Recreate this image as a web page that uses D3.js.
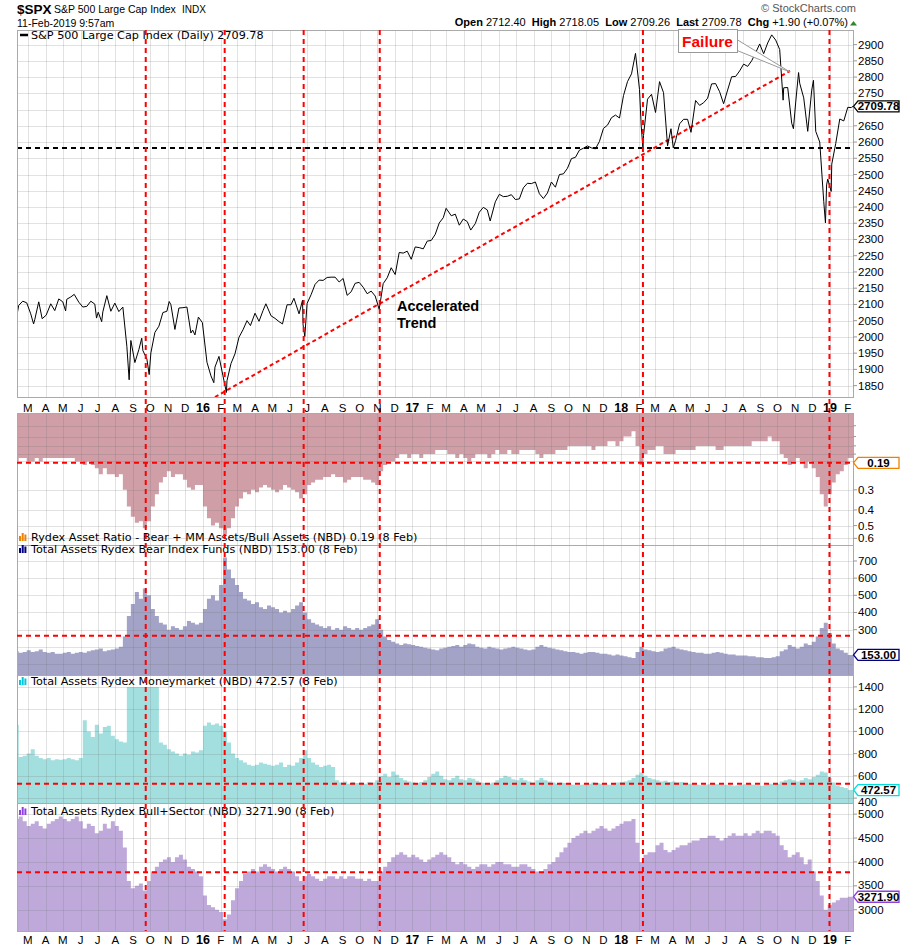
<!DOCTYPE html>
<html><head><meta charset="utf-8">
<script src="https://cdn.jsdelivr.net/npm/d3@7"></script>
<style>body{margin:0;background:#fff}</style>
</head><body>
<svg id="c" width="900" height="950"></svg>
<script>
// ---------------- DATA ----------------
const spxDates = ["2015-02-10","2015-02-13","2015-02-20","2015-02-27","2015-03-06","2015-03-11","2015-03-13","2015-03-20","2015-03-26","2015-04-02","2015-04-10","2015-04-17","2015-04-24","2015-05-01","2015-05-06","2015-05-08","2015-05-15","2015-05-21","2015-05-29","2015-06-05","2015-06-12","2015-06-19","2015-06-26","2015-06-29","2015-07-02","2015-07-08","2015-07-10","2015-07-17","2015-07-24","2015-07-31","2015-08-07","2015-08-14","2015-08-21","2015-08-25","2015-08-28","2015-09-04","2015-09-11","2015-09-16","2015-09-18","2015-09-25","2015-09-29","2015-10-02","2015-10-09","2015-10-16","2015-10-23","2015-10-30","2015-11-03","2015-11-06","2015-11-13","2015-11-20","2015-11-27","2015-12-04","2015-12-11","2015-12-14","2015-12-18","2015-12-24","2015-12-31","2016-01-08","2016-01-15","2016-01-20","2016-01-22","2016-01-29","2016-02-05","2016-02-11","2016-02-12","2016-02-19","2016-02-26","2016-03-04","2016-03-11","2016-03-18","2016-03-24","2016-04-01","2016-04-08","2016-04-15","2016-04-20","2016-04-29","2016-05-06","2016-05-13","2016-05-19","2016-05-27","2016-06-03","2016-06-08","2016-06-17","2016-06-23","2016-06-24","2016-06-27","2016-07-01","2016-07-08","2016-07-15","2016-07-22","2016-07-29","2016-08-05","2016-08-12","2016-08-19","2016-08-26","2016-09-02","2016-09-09","2016-09-16","2016-09-23","2016-09-30","2016-10-07","2016-10-14","2016-10-21","2016-10-28","2016-11-04","2016-11-11","2016-11-18","2016-11-25","2016-12-02","2016-12-09","2016-12-16","2016-12-23","2016-12-30","2017-01-06","2017-01-13","2017-01-20","2017-01-27","2017-02-03","2017-02-10","2017-02-17","2017-02-24","2017-03-01","2017-03-10","2017-03-17","2017-03-24","2017-03-31","2017-04-07","2017-04-13","2017-04-21","2017-04-28","2017-05-05","2017-05-12","2017-05-17","2017-05-26","2017-06-02","2017-06-09","2017-06-16","2017-06-23","2017-06-30","2017-07-07","2017-07-14","2017-07-21","2017-07-28","2017-08-04","2017-08-11","2017-08-18","2017-08-25","2017-09-01","2017-09-08","2017-09-15","2017-09-22","2017-09-29","2017-10-06","2017-10-13","2017-10-20","2017-10-27","2017-11-03","2017-11-10","2017-11-17","2017-11-24","2017-12-01","2017-12-08","2017-12-15","2017-12-22","2017-12-29","2018-01-05","2018-01-12","2018-01-19","2018-01-26","2018-02-02","2018-02-05","2018-02-08","2018-02-09","2018-02-16","2018-02-23","2018-03-02","2018-03-09","2018-03-16","2018-03-23","2018-03-29","2018-04-02","2018-04-06","2018-04-13","2018-04-20","2018-04-27","2018-05-03","2018-05-11","2018-05-18","2018-05-25","2018-06-01","2018-06-08","2018-06-15","2018-06-22","2018-06-29","2018-07-06","2018-07-13","2018-07-20","2018-07-27","2018-08-03","2018-08-10","2018-08-17","2018-08-24","2018-08-31","2018-09-07","2018-09-14","2018-09-21","2018-09-28","2018-10-05","2018-10-11","2018-10-12","2018-10-19","2018-10-26","2018-10-29","2018-11-02","2018-11-07","2018-11-09","2018-11-16","2018-11-23","2018-11-30","2018-12-03","2018-12-07","2018-12-14","2018-12-21","2018-12-24","2018-12-26","2018-12-28","2019-01-03","2019-01-04","2019-01-11","2019-01-18","2019-01-25","2019-02-01","2019-02-07","2019-02-08","2019-02-11"];
const spxValues = [2068,2097,2110,2105,2071,2040,2053,2108,2056,2067,2102,2081,2117,2108,2080,2116,2123,2131,2107,2092,2094,2110,2101,2058,2076,2047,2077,2127,2079,2104,2078,2092,1971,1868,1989,1921,1961,1996,1958,1932,1884,1951,2014,2033,2075,2079,2109,2099,2023,2089,2090,2092,2012,2021,2006,2061,2044,1922,1880,1859,1907,1940,1880,1829,1865,1918,1948,1999,2022,2050,2035,2073,2048,2081,2102,2065,2057,2047,2040,2099,2099,2119,2071,2113,2037,2001,2103,2130,2162,2175,2174,2183,2184,2184,2169,2180,2128,2139,2165,2168,2153,2133,2141,2126,2085,2164,2182,2213,2192,2260,2258,2264,2239,2277,2275,2271,2295,2297,2316,2351,2367,2396,2373,2378,2344,2363,2355,2329,2349,2384,2399,2391,2357,2416,2439,2432,2433,2438,2423,2425,2459,2473,2472,2477,2441,2426,2443,2477,2461,2500,2502,2519,2549,2553,2575,2581,2588,2582,2579,2602,2642,2652,2675,2683,2674,2743,2786,2810,2873,2762,2649,2581,2620,2732,2747,2691,2786,2752,2588,2641,2582,2604,2656,2670,2670,2630,2728,2713,2721,2735,2779,2780,2755,2718,2760,2801,2802,2819,2840,2833,2850,2875,2902,2872,2905,2930,2914,2885,2729,2767,2768,2658,2641,2723,2814,2781,2736,2633,2760,2790,2633,2600,2417,2351,2468,2486,2448,2532,2596,2671,2665,2707,2706,2708,2710];

// weekly (Friday) readings, 13 Feb 2015 .. 8 Feb 2019, grouped by month
const ratioValues = [
 0.20,0.19,0.19, 0.20,0.20,0.19,0.20, 0.19,0.19,0.19,0.19, 0.19,0.19,0.19,0.19,0.20, 0.20,0.21,0.20,0.21,
 0.22,0.24,0.22,0.24,0.24, 0.25,0.24,0.30,0.38, 0.44,0.48,0.47,0.52, 0.47,0.38,0.32,0.27,0.25, 0.23,0.25,0.24,0.24, 0.26,0.29,0.30,0.28,
 0.28,0.38,0.45,0.50,0.48, 0.52,0.57,0.52,0.45, 0.38,0.34,0.31,0.32, 0.30,0.31,0.29,0.28,0.29, 0.30,0.31,0.30,0.28, 0.29,0.30,0.31,0.34,
 0.32,0.28,0.27,0.26,0.26, 0.25,0.25,0.24,0.25, 0.25,0.27,0.26,0.25,0.25, 0.25,0.26,0.26,0.27, 0.28,0.23,0.21,0.20, 0.20,0.19,0.18,0.18,0.19,
 0.18,0.18,0.19,0.18, 0.18,0.18,0.17,0.17, 0.17,0.18,0.18,0.19,0.18, 0.19,0.20,0.19,0.18, 0.18,0.18,0.19,0.18, 0.17,0.18,0.18,0.17,0.18,
 0.18,0.17,0.17,0.17, 0.17,0.18,0.19,0.18, 0.18,0.18,0.17,0.17,0.17, 0.16,0.16,0.16,0.16, 0.16,0.16,0.17,0.16, 0.16,0.16,0.15,0.15,0.16,
 0.15,0.14,0.14,0.13, 0.16,0.21,0.18,0.17, 0.17,0.16,0.16,0.18,0.18, 0.18,0.17,0.17,0.17, 0.17,0.17,0.16,0.16, 0.16,0.16,0.16,0.17,0.17,
 0.16,0.16,0.16,0.16, 0.16,0.16,0.16,0.15,0.15, 0.15,0.15,0.14,0.15, 0.15,0.18,0.19,0.21, 0.20,0.19,0.20,0.22,0.20, 0.22,0.25,0.32,0.38,
 0.32,0.27,0.24,0.23, 0.21,0.19];
const bearValues = [
 175,165,170, 180,170,175,185, 170,165,170,160, 160,165,170,160,165, 170,165,175,180,
 185,190,175,180,185, 190,200,260,380, 450,520,480,540, 500,420,380,340,330, 300,320,310,300, 320,350,340,330,
 340,420,480,500,470, 560,720,650,600, 560,520,480,470, 450,460,430,420,440, 430,420,400,410, 400,420,440,460,
 400,360,340,330,320, 310,320,300,310, 300,320,310,300,310, 300,310,320,330, 360,300,260,240, 230,220,210,220,215,
 210,205,200,195, 190,185,180,190, 195,200,205,210,200, 210,220,215,200, 195,190,200,195, 190,185,190,195,200,
 195,190,185,180, 185,200,210,200, 195,190,185,180,175, 170,170,165,160, 165,170,170,165, 160,160,155,150,155,
 150,145,140,135, 170,200,185,180, 175,170,175,190,195, 200,190,185,180, 175,170,165,165, 160,160,165,170,165,
 160,155,155,150, 150,150,145,145,140, 140,135,135,140, 145,175,185,210, 200,190,200,220,210, 230,260,310,340,
 280,220,190,180, 165,153];
const mmValues = [
 1060,770,780, 800,840,780,760, 750,760,740,750, 745,750,760,750,740, 760,1100,1000,950,
 1060,980,1040,1050,960, 930,910,900,1400, 1400,1400,1400,1400, 1400,1400,1400,900,880, 840,820,800,780, 800,790,820,810,
 830,1050,1080,1060,1070, 1050,1000,900,800, 760,740,720,700, 690,700,720,710,700, 690,700,720,680, 700,690,720,760,
 830,760,720,700,680, 690,700,680,560, 540,550,530,545,535, 540,530,545,540, 560,600,620,590, 640,610,580,560,550,
 540,535,545,560, 590,620,640,600, 570,560,580,600,570, 560,580,575,555, 540,535,530,540, 560,580,600,590,570,
 560,580,560,550, 540,560,580,560, 550,540,530,540,535, 530,520,515,520, 525,530,540,535, 530,525,520,530,540,
 545,550,560,580, 610,630,600,580, 570,560,550,555,545, 550,540,545,535, 530,525,520,515, 520,525,530,525,520,
 520,515,510,515, 520,525,530,520,515, 510,520,530,525, 530,550,560,570, 560,550,560,580,570, 590,610,640,630,
 580,540,510,500, 490,473];
const bullValues = [
 4900,4950,4850, 4750,4800,4850,4750, 4700,4800,4850,4900, 4950,4900,4850,4900,4950, 4850,4700,4800,4750,
 4600,4650,4800,4700,4850, 4750,4650,4300,3600, 3450,3500,3550,3400, 3600,3800,3900,4000,4050, 4100,4000,4100,4150, 4050,3900,3850,3800,
 3700,3300,3100,3050,3000, 2950,2800,2900,3200, 3450,3600,3750,3800, 3850,3800,3900,3950,3900, 3850,3800,3850,3900, 3850,3800,3700,3600,
 3700,3750,3700,3650,3600, 3650,3700,3700,3650, 3700,3650,3700,3700,3650, 3650,3600,3650,3600, 3600,3800,3900,4000, 4100,4150,4200,4150,4100,
 4150,4100,4050,4000, 4050,4100,4150,4200, 4150,4100,4000,3950,4000, 3950,3900,3850,3900, 3950,3950,3900,3950, 4000,4000,3950,3950,3900,
 3900,3950,3950,3900, 3850,3800,3800,3850, 3950,4000,4100,4200,4300, 4400,4500,4550,4600, 4650,4600,4650,4700, 4750,4700,4650,4700,4750,
 4800,4850,4850,4900, 4400,4000,4150,4200, 4200,4350,4400,4250,4200, 4250,4300,4350,4350, 4400,4450,4450,4500, 4500,4550,4550,4500,4450,
 4500,4550,4600,4550, 4550,4600,4550,4600,4650, 4600,4650,4650,4600, 4550,4350,4250,4100, 4150,4200,4100,3950,4050, 3800,3600,3300,3000,
 3100,3150,3200,3250, 3250,3272];

const monthLetters = ["J","F","M","A","M","J","J","A","S","O","N","D"];
const mainTicks = [1850,1900,1950,2000,2050,2100,2150,2200,2250,2300,2350,2400,2450,2500,2550,2600,2650,2700,2750,2800,2850,2900];
const ratioTicks = [0.3,0.4,0.5,0.6];
const ratioMinor = [0.12,0.14,0.16,0.18,0.2];
const bearTicks = [100,200,300,400,500,600,700];
const mmTicks = [400,600,800,1000,1200,1400];
const bullTicks = [3000,3500,4000,4500,5000];
const eventDates = ["2015-09-23","2016-02-08","2016-06-25","2016-11-05","2018-02-08","2018-12-31"];
const trendStart = ["2016-01-22",1815], trendEnd = ["2018-10-23",2819];
const supportLevel = 2582;
const ratioRef = 0.204, bearRef = 265, mmRef = 530, bullRef = 3784;

// ---------------- DRAW ----------------
const svg = d3.select("#c");
const pd = d3.timeParse("%Y-%m-%d");
const L = 17, R = 853;
const P = {main:[30,397], ratio:[413,545], bear:[545,675], mm:[675,803], bull:[803,931]};
const x = d3.scaleTime().domain([new Date(2015,1,10), new Date(2019,1,11)]).range([17,853.5]);
const yMain = d3.scaleLinear().domain([1815,2945]).range([397,30]);
const yRatio = d3.scaleLog().domain([0.1,0.66]).range([413,545]);
const yBear = d3.scaleLinear().domain([36,793]).range([675,545]);
const yMM = d3.scaleLinear().domain([356,1507]).range([803,675]);
const yBull = d3.scaleLinear().domain([2555,5233]).range([931,803]);
const AX = "Liberation Sans, Arial, sans-serif";
const LG = "DejaVu Sans, Verdana, sans-serif";
const LGS = 11.2;

svg.append("rect").attr("width",900).attr("height",950).attr("fill","#fff");

const months = d3.timeMonth.range(new Date(2015,2,1), new Date(2019,2,1));
const weekDates = d3.timeFriday.range(new Date(2015,1,13), new Date(2019,1,9));

const defs = svg.append("defs");
Object.entries(P).forEach(([k,[t,b]])=>{
  defs.append("clipPath").attr("id","clip-"+k).append("rect").attr("x",L).attr("y",t).attr("width",R-L).attr("height",b-t);
});

function grid(key, ticks, y, layer){
  const [t,b] = P[key];
  const g = layer.append("g").attr("stroke","rgba(110,110,110,0.2)").attr("stroke-width",1);
  months.forEach(m=>{ const xx=Math.round(x(m))+0.5; g.append("line").attr("x1",xx).attr("x2",xx).attr("y1",t).attr("y2",b); });
  ticks.forEach(v=>{ const yy=Math.round(y(v))+0.5; if(yy>t&&yy<b) g.append("line").attr("x1",L).attr("x2",R).attr("y1",yy).attr("y2",yy); });
}
function axisLabels(key, ticks, y, fmt, minor, shift){
  const [t,b] = P[key];
  const g = svg.append("g");
  ticks.forEach(v=>{
    const yy=y(v); if(yy<t||yy>b) return;
    g.append("line").attr("x1",R).attr("x2",R+4).attr("y1",yy).attr("y2",yy).attr("stroke","#999");
    g.append("text").attr("x",R+5).attr("y",yy+4+((shift&&shift[v])||0)).attr("font-family",AX).attr("font-size",11.5).attr("fill","#000").text(fmt(v));
  });
  (minor||[]).forEach(v=>{ const yy=y(v); g.append("line").attr("x1",R).attr("x2",R+3).attr("y1",yy).attr("y2",yy).attr("stroke","#999"); });
}
function frame(key){
  const [t,b]=P[key];
  svg.append("rect").attr("x",L+0.5).attr("y",t+0.5).attr("width",R-L).attr("height",b-t).attr("fill","none").attr("stroke","#aaa");
}
function weekly(vals){
  const n=Math.min(vals.length, weekDates.length);
  const pts=[{d:x.domain()[0],v:vals[0]}];
  for(let i=0;i<n;i++) pts.push({d:weekDates[i],v:vals[i]});
  pts.push({d:x.domain()[1],v:vals[n-1]});
  return pts;
}
function barPanel(key, vals, y, color, fromTop, ticks){
  const [t,b]=P[key];
  const g = svg.append("g").attr("clip-path","url(#clip-"+key+")");
  const area = d3.area().curve(d3.curveStepBefore).x(p=>x(p.d)).y0(fromTop?t:b).y1(p=>y(p.v));
  g.append("path").datum(weekly(vals)).attr("d",area).attr("fill",color);
  grid(key, ticks, y, g);
}
function hRef(key, y, v, color){
  svg.append("line").attr("x1",L).attr("x2",R).attr("y1",y(v)).attr("y2",y(v))
    .attr("stroke",color).attr("stroke-width",2).attr("stroke-dasharray","5,4");
}
function valBox(yy, text, color){
  const g=svg.append("g");
  g.append("path").attr("d",`M853.5,${yy} L858,${yy-5.5} L899,${yy-5.5} L899,${yy+5.5} L858,${yy+5.5} Z`)
    .attr("fill","#fff").attr("stroke",color).attr("stroke-width",1.3);
  g.append("text").attr("x",878.5).attr("y",yy+4).attr("text-anchor","middle").attr("font-family",AX)
    .attr("font-weight","bold").attr("font-size",11.5).attr("fill","#000").text(text);
}
function barIcon(x0, yb, color){
  [[0,5],[2.7,8],[5.4,6.5]].forEach(([dx,h])=>svg.append("rect").attr("x",x0+dx).attr("y",yb-h).attr("width",2).attr("height",h).attr("fill",color));
}
function legend(x0, yb, text){
  svg.append("text").attr("x",x0).attr("y",yb).attr("font-family",LG).attr("font-size",LGS).attr("fill","#000").text(text);
}

// ---- main panel ----
const mainG = svg.append("g");
grid("main", mainTicks, yMain, mainG);
hRef("main", yMain, supportLevel, "#000");
svg.append("line").attr("x1",x(pd(trendStart[0]))).attr("y1",yMain(trendStart[1])).attr("x2",x(pd(trendEnd[0]))).attr("y2",yMain(trendEnd[1]))
  .attr("stroke","#ff0000").attr("stroke-width",2).attr("stroke-dasharray","4,3");
const spx = spxDates.map((d,i)=>({d:pd(d),v:spxValues[i]}));
svg.append("g").attr("clip-path","url(#clip-main)").append("path").datum(spx)
  .attr("d",d3.line().x(p=>x(p.d)).y(p=>yMain(p.v))).attr("fill","none").attr("stroke","#000").attr("stroke-width",1);
frame("main");
axisLabels("main", mainTicks.filter(v=>v!==2700), yMain, d3.format("d"));
valBox(yMain(spxValues[spxValues.length-1]), "2709.78", "#000");
svg.append("line").attr("x1",20).attr("x2",28).attr("y1",35).attr("y2",35).attr("stroke","#000").attr("stroke-width",2.5);
legend(31, 39, "S&P 500 Large Cap Index (Daily) 2709.78");

// ---- ratio panel ----
barPanel("ratio", ratioValues, yRatio, "#cf9ea7", true, ratioTicks.concat(ratioMinor));
frame("ratio");
axisLabels("ratio", ratioTicks, yRatio, d3.format(".1f"), ratioMinor);
hRef("ratio", yRatio, ratioRef, "#ff0000");
valBox(yRatio(ratioRef), "0.19", "#f08000");
barIcon(19, 541, "#f08000");
legend(31, 541, "Rydex Asset Ratio - Bear + MM Assets/Bull Assets (NBD) 0.19 (8 Feb)");

// ---- bear panel ----
barPanel("bear", bearValues, yBear, "#a3a3c7", false, bearTicks);
frame("bear");
axisLabels("bear", bearTicks.filter(v=>v!==100 && v!==200), yBear, d3.format("d"));
hRef("bear", yBear, bearRef, "#ff0000");
valBox(yBear(153), "153.00", "#000080");
barIcon(19, 553, "#000080");
legend(31, 553, "Total Assets Rydex Bear Index Funds (NBD) 153.00 (8 Feb)");

// ---- money market panel ----
barPanel("mm", mmValues, yMM, "#a3dfdf", false, mmTicks);
frame("mm");
axisLabels("mm", mmTicks, yMM, d3.format("d"), null, {400:4});
hRef("mm", yMM, mmRef, "#ff0000");
valBox(yMM(472.57), "472.57", "#00dede");
barIcon(19, 685, "#00c8e0");
legend(31, 685, "Total Assets Rydex Moneymarket (NBD) 472.57 (8 Feb)");

// ---- bull panel ----
barPanel("bull", bullValues, yBull, "#bea9da", false, bullTicks);
frame("bull");
axisLabels("bull", bullTicks, yBull, d3.format("d"), null, {3500:-1});
hRef("bull", yBull, bullRef, "#ff0000");
valBox(yBull(3271.9), "3271.90", "#9040e0");
barIcon(19, 815, "#9040e0");
legend(31, 815, "Total Assets Rydex Bull+Sector (NBD) 3271.90 (8 Feb)");

// ---- vertical event lines ----
eventDates.forEach(d=>{
  const xx=x(pd(d));
  svg.append("line").attr("x1",xx).attr("x2",xx).attr("y1",30).attr("y2",931)
    .attr("stroke","#ff0000").attr("stroke-width",2).attr("stroke-dasharray","5,4");
});

// ---- month labels ----
[411.5, 944].forEach(yb=>{
  months.forEach(m=>{
    const jan = m.getMonth()===0;
    svg.append("text").attr("x",x(m)).attr("y",yb).attr("text-anchor","middle").attr("font-family",AX)
      .attr("font-size",jan?12.5:11.5).attr("font-weight",jan?"bold":"normal").attr("fill","#000")
      .text(jan ? d3.timeFormat("%y")(m) : monthLetters[m.getMonth()]);
  });
});

// ---- annotations ----
svg.append("polygon").attr("points","736,39 736,50 790,72").attr("fill","#fff").attr("stroke","#999");
svg.append("rect").attr("x",678.5).attr("y",29.5).attr("width",59).attr("height",23).attr("fill","#fff").attr("stroke","#999");
svg.append("text").attr("x",682).attr("y",47).attr("font-family",AX).attr("font-weight","bold").attr("font-size",15.5).attr("fill","#ff0000").text("Failure");
svg.append("text").attr("x",397).attr("y",311).attr("font-family",AX).attr("font-weight","bold").attr("font-size",14.5).text("Accelerated");
svg.append("text").attr("x",397).attr("y",328).attr("font-family",AX).attr("font-weight","bold").attr("font-size",14.5).text("Trend");

// ---- header ----
svg.append("text").attr("x",17).attr("y",14).attr("font-family",AX).attr("font-weight","bold").attr("font-size",13.5).text("$SPX");
svg.append("text").attr("x",54).attr("y",13).attr("font-family",AX).attr("font-size",10.5).text("S&P 500 Large Cap Index");
svg.append("text").attr("x",182).attr("y",13).attr("font-family",AX).attr("font-size",10).text("INDX");
svg.append("text").attr("x",17).attr("y",27).attr("font-family",AX).attr("font-size",10.5).text("11-Feb-2019 9:57am");
svg.append("text").attr("x",856).attr("y",12).attr("text-anchor","end").attr("font-family",AX).attr("font-size",11).attr("fill","#555").text("© StockCharts.com");
const q = svg.append("text").attr("x",848).attr("y",26).attr("text-anchor","end").attr("font-family",AX).attr("font-size",11).attr("fill","#000");
[["Open"," 2712.40  "],["High"," 2718.05  "],["Low"," 2709.26  "],["Last"," 2709.78  "],["Chg"," +1.90 (+0.07%)"]].forEach(([a,b])=>{
  q.append("tspan").attr("font-weight","bold").text(a);
  q.append("tspan").style("white-space","pre").text(b);
});
svg.append("path").attr("d","M850,25.5 L853.5,21 L857,25.5 Z").attr("fill","#2a8a2a");
</script>
</body></html>
